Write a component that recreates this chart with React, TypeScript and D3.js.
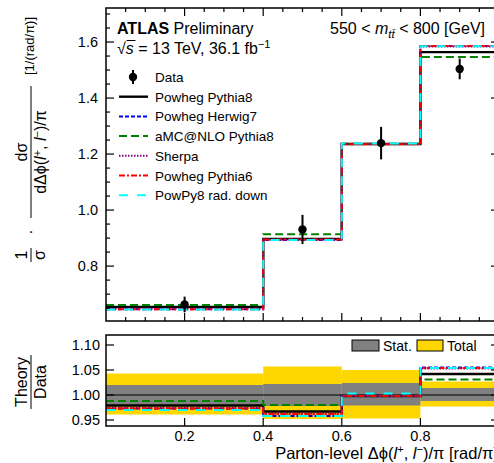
import React from 'react';
import * as d3 from 'd3';

// Binning of the normalised Δϕ(l+, l−)/π distribution
const binEdges = [0, 0.4, 0.6, 0.8, 1.0];
const binCenters = [0.2, 0.5, 0.7, 0.9];

// Unfolded data with total uncertainty
const dataValues = [0.663, 0.931, 1.239, 1.504];
const dataErrors = [0.028, 0.052, 0.058, 0.037];

// Generator predictions, main panel
const powhegPythia8 = [0.654, 0.897, 1.236, 1.564];
const powhegHerwig7 = [0.646, 0.893, 1.236, 1.586];
const amcNloPythia8 = [0.661, 0.914, 1.237, 1.547];
const sherpa = [0.648, 0.895, 1.236, 1.584];
const powhegPythia6 = [0.646, 0.895, 1.235, 1.586];
const powPy8RadDown = [0.645, 0.893, 1.238, 1.585];

// Theory / Data ratios
const ratioPowhegPythia8 = [0.979, 0.967, 0.998, 1.042];
const ratioPowhegHerwig7 = [0.973, 0.958, 0.998, 1.055];
const ratioAmcNloPythia8 = [0.988, 0.98, 0.999, 1.031];
const ratioSherpa = [0.974, 0.963, 0.999, 1.053];
const ratioPowhegPythia6 = [0.973, 0.962, 0.998, 1.054];
const ratioPowPy8RadDown = [0.97, 0.958, 1.003, 1.054];

// Relative uncertainty bands
const statLow = [0.98, 0.978, 0.979, 0.988];
const statHigh = [1.02, 1.022, 1.024, 1.014];
const totalLow = [0.961, 0.952, 0.953, 0.977];
const totalHigh = [1.043, 1.057, 1.05, 1.027];

// Axis ticks
const xMajorTicks = [0.2, 0.4, 0.6, 0.8, 1.0];
const xTickLabels = ['0.2', '0.4', '0.6', '0.8'];
const yMainTicks = [0.8, 1.0, 1.2, 1.4, 1.6];
const yMainTickLabels = ['0.8', '1.0', '1.2', '1.4', '1.6'];
const yRatioTicks = [0.95, 1.0, 1.05, 1.1];
const yRatioTickLabels = ['0.95', '1.00', '1.05', '1.10'];

const W = 494;
const H = 463;
const FONT = '"Liberation Sans", Arial, Helvetica, sans-serif';

const left = 106;
const right = 499;
const mainTop = 8;
const mainBottom = 321;
const ratioTop = 335;
const ratioBottom = 426;

const x = d3.scaleLinear().domain([0, 1]).range([left, right]);
const yMain = d3.scaleLinear().domain([0.604, 1.7215]).range([mainBottom, mainTop]);
const yRatio = d3.scaleLinear().domain([0.938, 1.12]).range([ratioBottom, ratioTop]);

type Series = {
  name: string;
  main: number[];
  ratio: number[];
  color: string;
  dash: string;
  width: number;
};

const series: Series[] = [
  { name: 'Powheg Pythia8', main: powhegPythia8, ratio: ratioPowhegPythia8, color: '#000000', dash: '', width: 2.4 },
  { name: 'Powheg Herwig7', main: powhegHerwig7, ratio: ratioPowhegHerwig7, color: '#0000ff', dash: '4,2', width: 2 },
  { name: 'aMC@NLO Pythia8', main: amcNloPythia8, ratio: ratioAmcNloPythia8, color: '#008000', dash: '8,4', width: 2 },
  { name: 'Sherpa', main: sherpa, ratio: ratioSherpa, color: '#800080', dash: '1.5,1.5', width: 2 },
  { name: 'Powheg Pythia6', main: powhegPythia6, ratio: ratioPowhegPythia6, color: '#ff0000', dash: '6,2,2,2', width: 2 },
  { name: 'PowPy8 rad. down', main: powPy8RadDown, ratio: ratioPowPy8RadDown, color: '#00ffff', dash: '9,9', width: 2 },
];

function stepPoints(values: number[]): [number, number][] {
  const pts: [number, number][] = [];
  values.forEach((v, i) => {
    pts.push([binEdges[i], v]);
    pts.push([binEdges[i + 1], v]);
  });
  return pts;
}

function stepPath(values: number[], y: d3.ScaleLinear<number, number>) {
  return d3
    .line<[number, number]>()
    .x((d) => x(d[0]))
    .y((d) => y(d[1]))(stepPoints(values)) as string;
}

function range(start: number, stop: number, step: number) {
  return d3.range(Math.round((stop - start) / step) + 1).map((i) => +(start + i * step).toFixed(4));
}

const xMinor = range(0.05, 0.95, 0.05).filter((v) => !xMajorTicks.some((m) => Math.abs(m - v) < 1e-6));
const yMainMinor = range(0.65, 1.7, 0.05).filter((v) => !yMainTicks.some((m) => Math.abs(m - v) < 1e-6));

export default function App() {
  const legendY0 = 77;
  const legendStep = 19.7;

  return (
    <svg
      width={W}
      height={H}
      style={{ position: 'absolute', left: 0, top: 0, background: '#fff' }}
      fontFamily={FONT}
    >
      <rect x={0} y={0} width={W} height={H} fill="#fff" />

      {/* ---------- main panel ---------- */}
      <g>
        {series.map((s) => (
          <path
            key={s.name}
            d={stepPath(s.main, yMain)}
            fill="none"
            stroke={s.color}
            strokeWidth={s.width}
            strokeDasharray={s.dash || undefined}
            strokeLinejoin="miter"
          />
        ))}

        {dataValues.map((v, i) => (
          <g key={i}>
            <line
              x1={x(binCenters[i])}
              x2={x(binCenters[i])}
              y1={yMain(v - dataErrors[i])}
              y2={yMain(v + dataErrors[i])}
              stroke="#000"
              strokeWidth={2}
            />
            <circle cx={x(binCenters[i])} cy={yMain(v)} r={4.2} fill="#000" />
          </g>
        ))}

        {/* frame and ticks */}
        <rect
          x={left}
          y={mainTop}
          width={right - left}
          height={mainBottom - mainTop}
          fill="none"
          stroke="#000"
          strokeWidth={1.5}
        />
        {xMajorTicks.map((t) => (
          <g key={'xm' + t}>
            <line x1={x(t)} x2={x(t)} y1={mainBottom} y2={mainBottom - 8} stroke="#000" strokeWidth={1.2} />
            <line x1={x(t)} x2={x(t)} y1={mainTop} y2={mainTop + 8} stroke="#000" strokeWidth={1.2} />
          </g>
        ))}
        {xMinor.map((t) => (
          <g key={'xn' + t}>
            <line x1={x(t)} x2={x(t)} y1={mainBottom} y2={mainBottom - 4} stroke="#000" strokeWidth={1.2} />
            <line x1={x(t)} x2={x(t)} y1={mainTop} y2={mainTop + 4} stroke="#000" strokeWidth={1.2} />
          </g>
        ))}
        {yMainTicks.map((t, i) => (
          <g key={'ym' + t}>
            <line x1={left} x2={left + 8} y1={yMain(t)} y2={yMain(t)} stroke="#000" strokeWidth={1.2} />
            <line x1={right} x2={right - 8} y1={yMain(t)} y2={yMain(t)} stroke="#000" strokeWidth={1.2} />
            <text x={left - 8} y={yMain(t) + 5} textAnchor="end" fontSize={14.5}>
              {yMainTickLabels[i]}
            </text>
          </g>
        ))}
        {yMainMinor.map((t) => (
          <g key={'yn' + t}>
            <line x1={left} x2={left + 4} y1={yMain(t)} y2={yMain(t)} stroke="#000" strokeWidth={1.2} />
            <line x1={right} x2={right - 4} y1={yMain(t)} y2={yMain(t)} stroke="#000" strokeWidth={1.2} />
          </g>
        ))}
      </g>

      {/* labels */}
      <text x={117} y={34} fontSize={16}>
        <tspan fontWeight="bold">ATLAS</tspan>
        <tspan> Preliminary</tspan>
      </text>
      <text x={117} y={54} fontSize={16}>
        <tspan>√</tspan>
        <tspan fontStyle="italic">s</tspan>
        <tspan> = 13 TeV, 36.1 fb</tspan>
        <tspan dy={-6} fontSize={11}>−1</tspan>
      </text>
      <line x1={126.5} x2={135.5} y1={40.5} y2={40.5} stroke="#000" strokeWidth={1} />
      <text x={485} y={34} fontSize={16} textAnchor="end">
        <tspan>550  &lt;  </tspan>
        <tspan fontStyle="italic">m</tspan>
        <tspan dy={4} fontSize={11.5} fontStyle="italic">tt̄</tspan>
        <tspan dy={-4}>  &lt;  800 [GeV]</tspan>
      </text>

      {/* legend */}
      <g fontSize={13.5}>
        <line x1={133} x2={133} y1={legendY0 - 7} y2={legendY0 + 7} stroke="#000" strokeWidth={2} />
        <circle cx={133} cy={legendY0} r={4.2} fill="#000" />
        <text x={155} y={legendY0 + 5}>Data</text>
        {series.map((s, i) => {
          const yy = legendY0 + legendStep * (i + 1);
          return (
            <g key={'lg' + s.name}>
              <line
                x1={119}
                x2={148}
                y1={yy}
                y2={yy}
                stroke={s.color}
                strokeWidth={s.width}
                strokeDasharray={s.dash || undefined}
              />
              <text x={155} y={yy + 5}>
                {s.name}
              </text>
            </g>
          );
        })}
      </g>

      {/* main y-axis title */}
      <g fontSize={16}>
        <g transform="translate(31,152) rotate(-90)">
          <text x={0} y={-4} textAnchor="middle">dσ</text>
          <line x1={-66} x2={66} y1={0} y2={0} stroke="#000" strokeWidth={1} />
          <text x={0} y={15} textAnchor="middle">
            <tspan>dΔϕ(</tspan>
            <tspan fontStyle="italic">l</tspan>
            <tspan dy={-5} fontSize={11}>+</tspan>
            <tspan dy={5}>, </tspan>
            <tspan fontStyle="italic">l</tspan>
            <tspan dy={-5} fontSize={11}>−</tspan>
            <tspan dy={5}>)/π</tspan>
          </text>
        </g>
        <g transform="translate(31,232) rotate(-90)">
          <text x={0} y={5} textAnchor="middle">·</text>
        </g>
        <g transform="translate(31,255) rotate(-90)">
          <text x={0} y={-4} textAnchor="middle">1</text>
          <line x1={-7} x2={7} y1={0} y2={0} stroke="#000" strokeWidth={1} />
          <text x={0} y={14} textAnchor="middle">σ</text>
        </g>
        <g transform="translate(34,46) rotate(-90)">
          <text x={0} y={0} textAnchor="middle" fontSize={13}>[1/(rad/π)]</text>
        </g>
      </g>

      {/* ---------- ratio panel ---------- */}
      <g>
        {totalLow.map((lo, i) => (
          <rect
            key={'tot' + i}
            x={x(binEdges[i])}
            width={x(binEdges[i + 1]) - x(binEdges[i])}
            y={yRatio(totalHigh[i])}
            height={yRatio(lo) - yRatio(totalHigh[i])}
            fill="#ffd700"
          />
        ))}
        {statLow.map((lo, i) => (
          <rect
            key={'stat' + i}
            x={x(binEdges[i])}
            width={x(binEdges[i + 1]) - x(binEdges[i])}
            y={yRatio(statHigh[i])}
            height={yRatio(lo) - yRatio(statHigh[i])}
            fill="#808080"
          />
        ))}
        <line x1={left} x2={right} y1={yRatio(1)} y2={yRatio(1)} stroke="#000" strokeWidth={1} />
        {series.map((s) => (
          <path
            key={'r' + s.name}
            d={stepPath(s.ratio, yRatio)}
            fill="none"
            stroke={s.color}
            strokeWidth={s.width}
            strokeDasharray={s.dash || undefined}
          />
        ))}

        <rect
          x={left}
          y={ratioTop}
          width={right - left}
          height={ratioBottom - ratioTop}
          fill="none"
          stroke="#000"
          strokeWidth={1.5}
        />
        {xMajorTicks.map((t, i) => (
          <g key={'rx' + t}>
            <line x1={x(t)} x2={x(t)} y1={ratioBottom} y2={ratioBottom - 8} stroke="#000" strokeWidth={1.2} />
            {xTickLabels[i] && (
              <text x={x(t)} y={441} textAnchor="middle" fontSize={14.5}>
                {xTickLabels[i]}
              </text>
            )}
          </g>
        ))}
        {yRatioTicks.map((t, i) => (
          <g key={'ry' + t}>
            <line x1={left} x2={left + 8} y1={yRatio(t)} y2={yRatio(t)} stroke="#000" strokeWidth={1.2} />
            <line x1={right} x2={right - 8} y1={yRatio(t)} y2={yRatio(t)} stroke="#000" strokeWidth={1.2} />
            <text x={left - 6} y={yRatio(t) + 5} textAnchor="end" fontSize={14.5}>
              {yRatioTickLabels[i]}
            </text>
          </g>
        ))}

        {/* band legend */}
        <rect x={352} y={340} width={27} height={11} fill="#808080" stroke="#000" strokeWidth={1} />
        <text x={383} y={351} fontSize={14}>Stat.</text>
        <rect x={417} y={340} width={26} height={11} fill="#ffd700" stroke="#000" strokeWidth={1} />
        <text x={447} y={351} fontSize={14}>Total</text>
      </g>

      {/* ratio y-axis title */}
      <g transform="translate(31,382) rotate(-90)" fontSize={16}>
        <text x={0} y={-4} textAnchor="middle">Theory</text>
        <line x1={-27} x2={27} y1={0} y2={0} stroke="#000" strokeWidth={1} />
        <text x={0} y={15} textAnchor="middle">Data</text>
      </g>

      {/* x-axis title */}
      <text x={498} y={459} textAnchor="end" fontSize={16.5}>
        <tspan>Parton-level Δϕ(</tspan>
        <tspan fontStyle="italic">l</tspan>
        <tspan dy={-6} fontSize={11}>+</tspan>
        <tspan dy={6}>, </tspan>
        <tspan fontStyle="italic">l</tspan>
        <tspan dy={-6} fontSize={11}>−</tspan>
        <tspan dy={6}>)/π [rad/π]</tspan>
      </text>
    </svg>
  );
}
